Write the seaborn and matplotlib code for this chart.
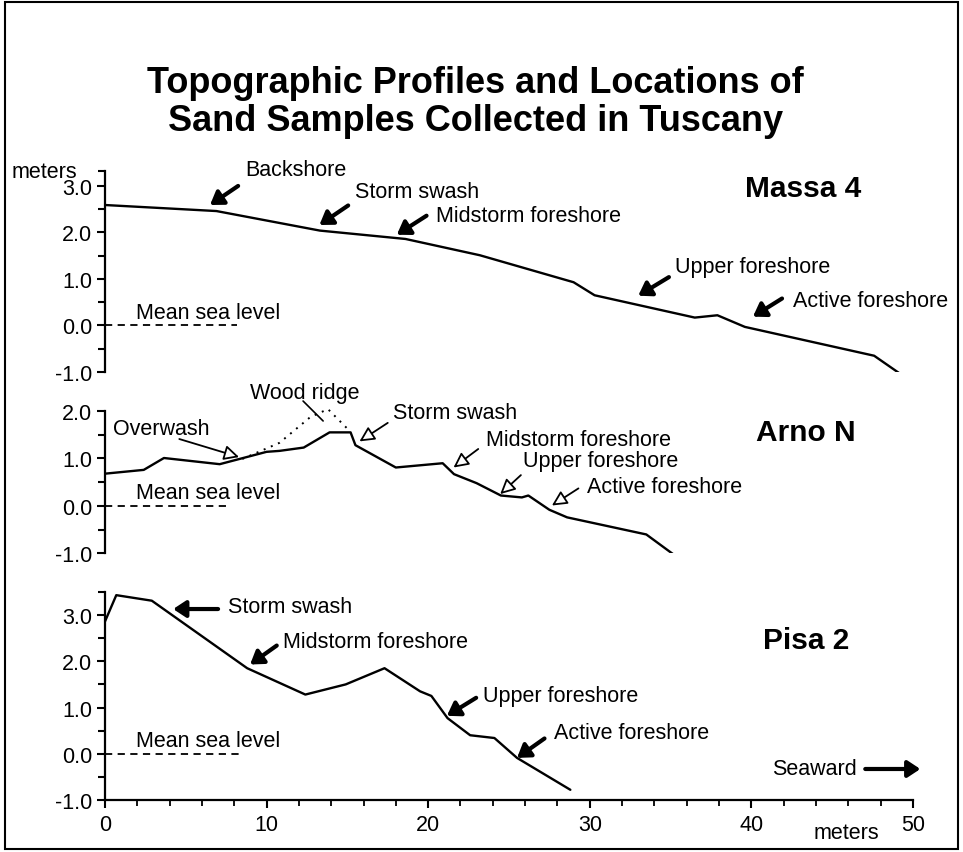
import seaborn as sns
import matplotlib.pyplot as plt
from matplotlib.patches import Rectangle
from matplotlib.ticker import MultipleLocator, FixedLocator, FormatStrFormatter

# profiles: distance from origin (m) and elevation (m)
massa_x = [0, 6.9, 13.3, 18.6, 23.2, 29.0, 30.3, 36.5, 37.9, 39.6, 47.6, 49.3]
massa_y = [2.59, 2.46, 2.04, 1.86, 1.51, 0.93, 0.65, 0.17, 0.22, -0.03, -0.65, -1.06]

arno_x = [0, 2.4, 3.65, 7.1, 10.0, 10.8, 12.3, 13.9, 15.2, 15.5, 18.0, 20.9, 21.6,
          23.0, 24.5, 25.8, 26.2, 27.5, 28.6, 33.5, 35.5]
arno_y = [0.68, 0.76, 1.01, 0.88, 1.14, 1.16, 1.23, 1.55, 1.55, 1.28, 0.81, 0.90, 0.67,
          0.48, 0.22, 0.18, 0.22, -0.08, -0.24, -0.60, -1.10]

# wood ridge (dotted) on Arno N
ridge_x = [8.5, 10.8, 12.7, 13.8, 15.2]
ridge_y = [0.99, 1.33, 1.87, 2.04, 1.56]

pisa_x = [0, 0.7, 2.9, 8.8, 12.4, 14.9, 17.3, 19.5, 20.2, 21.2, 22.6, 24.1, 25.5, 28.8]
pisa_y = [2.86, 3.43, 3.31, 1.85, 1.28, 1.50, 1.85, 1.35, 1.25, 0.77, 0.40, 0.34, -0.09, -0.78]

site_names = ['Massa 4', 'Arno N', 'Pisa 2']
msl_end = [8.2, 7.7, 8.4]   # extent of the mean sea level dashes
ylims = [(-1.0, 3.32), (-1.0, 2.0), (-1.0, 3.5)]

sns.set_style('ticks')
plt.rcParams['font.family'] = ['Liberation Sans', 'DejaVu Sans']
plt.rcParams['axes.unicode_minus'] = False
for k in ['text.color', 'axes.labelcolor', 'xtick.color', 'ytick.color', 'axes.edgecolor']:
    plt.rcParams[k] = 'black'
FS = 15.5

fig = plt.figure(figsize=(9.63, 8.53), dpi=100)
L, W = 0.109, 0.839
ax_top = fig.add_axes([L, 0.5627, W, 0.2356])
ax_mid = fig.add_axes([L, 0.350, W, 0.167])
ax_bot = fig.add_axes([L, 0.061, W, 0.2439])
axes = [ax_top, ax_mid, ax_bot]


def arrow(ax, tail, tip, hollow=False):
    if hollow:
        props = dict(arrowstyle='-|>,head_length=0.6,head_width=0.3', ec='black',
                     fc='white', lw=1.3, shrinkA=0, shrinkB=0, mutation_scale=15)
    else:
        props = dict(arrowstyle='-|>,head_length=0.5,head_width=0.33', ec='black',
                     fc='black', lw=3, shrinkA=0, shrinkB=0, mutation_scale=15)
    ax.annotate('', xy=tip, xytext=tail, arrowprops=props, annotation_clip=False)


def label(ax, x, y, s, **kw):
    ax.text(x, y, s, fontsize=kw.pop('fontsize', FS), ha='left', va='center',
            clip_on=False, **kw)


for i, ax in enumerate(axes):
    ax.set_xlim(0, 50)
    ax.set_ylim(*ylims[i])
    ax.yaxis.set_major_locator(MultipleLocator(1))
    ax.yaxis.set_minor_locator(MultipleLocator(0.5))
    ax.yaxis.set_major_formatter(FormatStrFormatter('%.1f'))
    ax.tick_params(axis='y', which='major', length=6, width=1.5, labelsize=FS, pad=3)
    ax.tick_params(axis='y', which='minor', length=5, width=1.5)
    ax.spines['top'].set_visible(False)
    ax.spines['right'].set_visible(False)
    ax.spines['left'].set_linewidth(1.6)
    ax.patch.set_alpha(0)
    # mean sea level
    ax.plot([0, msl_end[i]], [0, 0], color='black', lw=1.3, dashes=(4, 3))
    label(ax, 1.9, 0.28, 'Mean sea level')
    if ax is not ax_bot:
        ax.spines['bottom'].set_visible(False)
        ax.tick_params(axis='x', which='both', bottom=False, labelbottom=False)

# cap tick at the top of the Massa 4 axis, next to "meters"
ax_top.yaxis.set_minor_locator(FixedLocator([-0.5, 0.5, 1.5, 2.5, ylims[0][1]]))

# Massa 4
sns.lineplot(x=massa_x, y=massa_y, ax=ax_top, color='black', linewidth=1.7,
             sort=False, estimator=None)
ax_top.text(-0.035, 1.0, 'meters', transform=ax_top.transAxes, fontsize=FS,
            ha='right', va='center')
label(ax_top, 39.6, 2.95, site_names[0], fontsize=21.5, fontweight='bold')
label(ax_top, 8.7, 3.36, 'Backshore')
arrow(ax_top, (8.24, 3.0), (6.5, 2.59))
label(ax_top, 15.5, 2.87, 'Storm swash')
arrow(ax_top, (15.05, 2.58), (13.27, 2.16))
label(ax_top, 20.5, 2.36, 'Midstorm foreshore')
arrow(ax_top, (19.9, 2.36), (18.06, 1.95))
label(ax_top, 35.3, 1.26, 'Upper foreshore')
arrow(ax_top, (34.9, 1.04), (33.0, 0.64))
label(ax_top, 42.6, 0.54, 'Active foreshore')
arrow(ax_top, (41.9, 0.58), (40.1, 0.19))

# Arno N
sns.lineplot(x=arno_x, y=arno_y, ax=ax_mid, color='black', linewidth=1.7,
             sort=False, estimator=None)
ax_mid.plot(ridge_x, ridge_y, color='black', lw=1.4, linestyle=(0, (1, 3)),
            clip_on=False)
label(ax_mid, 40.3, 1.55, site_names[1], fontsize=21.5, fontweight='bold')
label(ax_mid, 0.47, 1.64, 'Overwash')
arrow(ax_mid, (4.6, 1.41), (8.3, 1.03), hollow=True)
label(ax_mid, 9.0, 2.39, 'Wood ridge')
ax_mid.annotate('', xy=(13.5, 1.79), xytext=(12.26, 2.21),
                arrowprops=dict(arrowstyle='-', lw=1.2, color='black',
                                shrinkA=0, shrinkB=0), annotation_clip=False)
label(ax_mid, 17.8, 1.97, 'Storm swash')
arrow(ax_mid, (17.5, 1.75), (15.75, 1.36), hollow=True)
label(ax_mid, 23.6, 1.41, 'Midstorm foreshore')
arrow(ax_mid, (23.1, 1.20), (21.57, 0.81), hollow=True)
label(ax_mid, 25.9, 0.95, 'Upper foreshore')
arrow(ax_mid, (25.74, 0.65), (24.46, 0.25), hollow=True)
label(ax_mid, 29.8, 0.41, 'Active foreshore')
arrow(ax_mid, (29.3, 0.37), (27.66, 0.01), hollow=True)

# Pisa 2
sns.lineplot(x=pisa_x, y=pisa_y, ax=ax_bot, color='black', linewidth=1.7,
             sort=False, estimator=None)
ax_bot.xaxis.set_major_locator(MultipleLocator(10))
ax_bot.xaxis.set_minor_locator(MultipleLocator(2))
ax_bot.tick_params(axis='x', which='major', length=6, width=1.5, labelsize=FS, pad=4)
ax_bot.tick_params(axis='x', which='minor', length=4, width=1.3)
ax_bot.spines['bottom'].set_linewidth(1.6)
ax_bot.text(45.9, -1.70, 'meters', fontsize=FS, ha='center', va='center', clip_on=False)
label(ax_bot, 40.7, 2.46, site_names[2], fontsize=21.5, fontweight='bold')
label(ax_bot, 7.6, 3.19, 'Storm swash')
arrow(ax_bot, (7.0, 3.13), (4.22, 3.13))
label(ax_bot, 11.0, 2.43, 'Midstorm foreshore')
arrow(ax_bot, (10.63, 2.34), (8.98, 1.93))
label(ax_bot, 23.4, 1.27, 'Upper foreshore')
arrow(ax_bot, (22.97, 1.21), (21.16, 0.82))
label(ax_bot, 27.8, 0.46, 'Active foreshore')
arrow(ax_bot, (27.2, 0.33), (25.5, -0.09))
label(ax_bot, 41.3, -0.33, 'Seaward')
arrow(ax_bot, (47.05, -0.33), (50.46, -0.33))

fig.text(0.494, 0.880, 'Topographic Profiles and Locations of\nSand Samples Collected in Tuscany',
         fontsize=26, fontweight='bold', ha='center', va='center', linespacing=1.12)

fig.add_artist(Rectangle((0.005, 0.004), 0.99, 0.992, transform=fig.transFigure,
                         fill=False, ec='black', lw=1.5))

fig.savefig('out.png', dpi=100)
